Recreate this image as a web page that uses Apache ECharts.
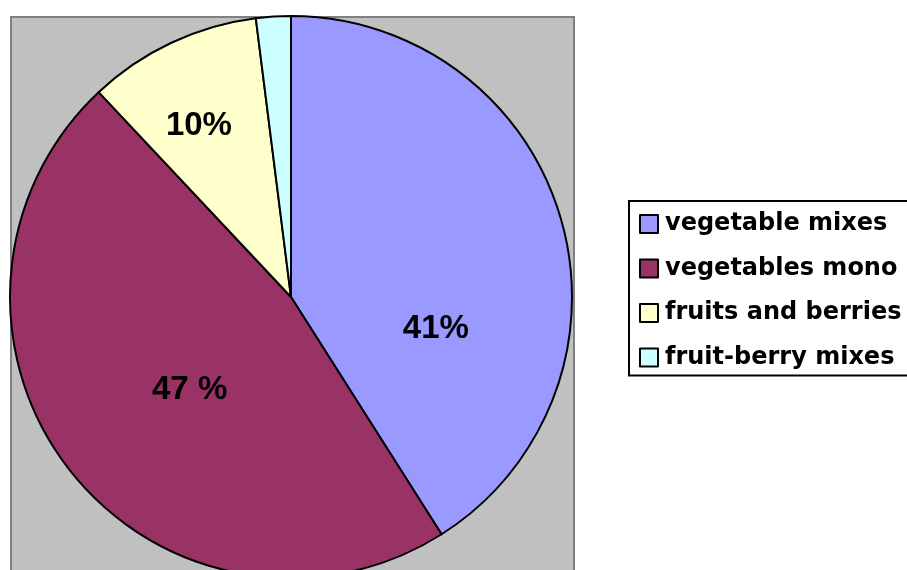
<!DOCTYPE html>
<html lang="en">
  <head>
    <meta charset="UTF-8" />
    <title>Pie</title>
    <script src="https://cdn.jsdelivr.net/npm/echarts@6/dist/echarts.min.js"></script>
    <style>
      html, body { margin: 0; padding: 0; background: #fff; }
    </style>
  </head>
  <body>
    <div id="main" style="width: 907px; height: 570px"></div>
    <script type="text/javascript">
      var categories = [
        "vegetable mixes",
        "vegetables mono",
        "fruits and berries",
        "fruit-berry mixes",
      ];
      var values = [41, 47, 10, 2];
      var sliceLabels = ["41%", "47 %", "10%", ""];
      var colors = ["#9999FF", "#993366", "#FFFFCC", "#CCFFFF"];

      // nudges for the in-slice labels, by slice
      var labelShift = [
        [7, 72],
        [12, 5],
        [-31, -41],
        [0, 0],
      ];

      var chartDom = document.getElementById("main");
      var myChart = echarts.init(chartDom);

      var option = {
        animation: false,
        graphic: [
          {
            type: "rect",
            left: 10,
            top: 16,
            shape: { width: 563, height: 600 },
            style: { fill: "#C0C0C0", stroke: "#808080", lineWidth: 2 },
            z: -10,
          },
        ],
        legend: {
          orient: "vertical",
          left: 629,
          top: 201,
          padding: [11, 40, 6, 10],
          itemWidth: 18,
          itemHeight: 18,
          itemGap: 20.5,
          borderColor: "#000",
          borderWidth: 2,
          icon: "rect",
          itemStyle: { borderColor: "#000", borderWidth: 2 },
          textStyle: {
            fontFamily: "DejaVu Sans",
            fontWeight: "bold",
            fontSize: 24,
            lineHeight: 24,
            color: "#000",
            padding: [0, 0, 0, 2],
          },
          data: categories,
        },
        series: [
          {
            type: "pie",
            center: [291, 297],
            radius: 281,
            startAngle: 90,
            clockwise: true,
            avoidLabelOverlap: false,
            itemStyle: { borderColor: "#000", borderWidth: 2 },
            emphasis: { disabled: true },
            label: {
              show: true,
              position: "inside",
              fontFamily: "Liberation Sans",
              fontWeight: "bold",
              fontSize: 33,
              color: "#000",
              formatter: function (p) {
                return sliceLabels[p.dataIndex];
              },
            },
            labelLine: { show: false },
            labelLayout: function (p) {
              var s = labelShift[p.dataIndex];
              return { dx: s[0], dy: s[1] };
            },
            data: categories.map(function (name, i) {
              return {
                name: name,
                value: values[i],
                itemStyle: { color: colors[i] },
              };
            }),
          },
        ],
      };

      myChart.setOption(option);
    </script>
  </body>
</html>
